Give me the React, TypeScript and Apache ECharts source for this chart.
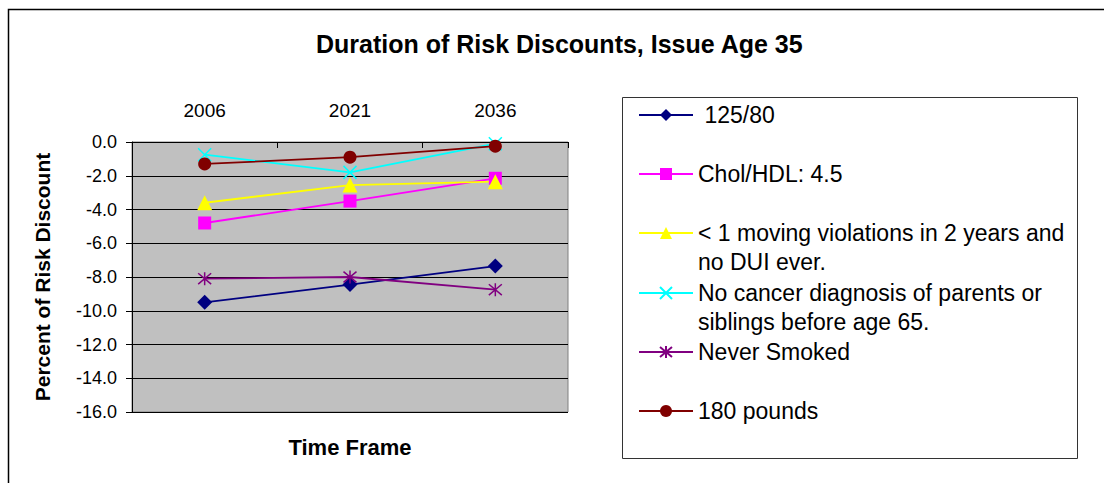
import React, { useEffect, useRef } from "react";
import * as echarts from "echarts";

const categories = ["2006", "2021", "2036"];
const seriesNames = [
  " 125/80",
  "Chol/HDL: 4.5",
  "< 1 moving violations in 2 years and no DUI ever.",
  "No cancer diagnosis of parents or siblings before age 65.",
  "Never Smoked",
  "180 pounds",
];
const legendLabels = [
  " 125/80",
  "Chol/HDL: 4.5",
  " \n< 1 moving violations in 2 years and\nno DUI ever.",
  " \nNo cancer diagnosis of parents or\nsiblings before age 65.",
  "Never Smoked",
  "180 pounds",
];
const bpValues = [-9.5, -8.45, -7.35];
const cholValues = [-4.8, -3.5, -2.15];
const movingValues = [-3.6, -2.55, -2.35];
const cancerValues = [-0.75, -1.8, -0.1];
const smokedValues = [-8.1, -8.0, -8.75];
const poundsValues = [-1.3, -0.9, -0.25];
const yTicks = { min: -16, max: 0, interval: 2 };

const FONT = "'Liberation Sans', Arial, sans-serif";

export default function App() {
  const ref = useRef<HTMLDivElement>(null);
  useEffect(() => {
    if (!ref.current) return;
    const chart = echarts.init(ref.current, undefined, { renderer: "svg" });
    const values = [bpValues, cholValues, movingValues, cancerValues, smokedValues, poundsValues];
    const colors = ["#000080", "#FF00FF", "#FFFF00", "#00FFFF", "#800080", "#800000"];
    const symbols = [
      "diamond",
      "rect",
      "triangle",
      "path://M0,0L10,10M10,0L0,10",
      "path://M0,0L10,10M10,0L0,10M5,-1L5,11",
      "circle",
    ];
    const symbolSizes = [15, 13, 15, 13, 13, 13];
    const stroked = [false, false, false, true, true, false];
    const legendCenters = [115, 174, 233, 293, 352, 411];

    const series = seriesNames.map((name, i) => ({
      name,
      type: "line",
      data: values[i],
      symbol: symbols[i],
      symbolSize: symbolSizes[i],
      showAllSymbol: true,
      lineStyle: { color: colors[i], width: 1.8 },
      itemStyle: stroked[i]
        ? { color: colors[i], borderColor: colors[i], borderWidth: 1.5 }
        : { color: colors[i], borderWidth: 0 },
      emphasis: { disabled: true },
      z: 3,
    }));

    const legends = seriesNames.map((name, i) => {
      const multi = legendLabels[i].includes("\n");
      return {
        data: [name],
        left: 638,
        top: legendCenters[i] - (multi ? 43.5 : 14.5),
        orient: "vertical",
        itemWidth: 54,
        itemHeight: 15,
        padding: 0,
        selectedMode: false,
        formatter: () => legendLabels[i],
        textStyle: {
          fontSize: 23,
          lineHeight: 29,
          color: "#000",
          fontFamily: FONT,
        },
      };
    });

    chart.setOption({
      animation: false,
      backgroundColor: "#fff",
      title: {
        text: "Duration of Risk Discounts, Issue Age 35",
        left: 316,
        top: 31,
        padding: 0,
        textStyle: { fontSize: 25, fontWeight: "bold", color: "#000", fontFamily: FONT },
      },
      legend: legends,
      grid: {
        left: 132,
        top: 142,
        width: 436,
        height: 270,
        show: true,
        backgroundColor: "#C0C0C0",
        borderColor: "#808080",
        borderWidth: 1,
      },
      xAxis: {
        type: "category",
        position: "top",
        data: categories,
        boundaryGap: true,
        axisLine: { lineStyle: { color: "#000", width: 1 } },
        axisTick: { show: true, inside: true, length: 6, lineStyle: { color: "#000" } },
        axisLabel: { fontSize: 19, color: "#000", margin: 22, fontFamily: FONT },
        splitLine: { show: false },
      },
      yAxis: {
        type: "value",
        min: yTicks.min,
        max: yTicks.max,
        interval: yTicks.interval,
        name: "Percent of Risk Discount",
        nameLocation: "middle",
        nameGap: 79,
        nameTextStyle: { fontSize: 21, fontWeight: "bold", color: "#000", fontFamily: FONT },
        axisLine: { show: true, lineStyle: { color: "#000", width: 1 } },
        axisTick: { show: true, inside: false, length: 6, lineStyle: { color: "#000" } },
        axisLabel: {
          fontSize: 18,
          color: "#000",
          margin: 15,
          fontFamily: FONT,
          formatter: (v: number) => v.toFixed(1),
        },
        splitLine: { show: true, lineStyle: { color: "#000", width: 1 } },
      },
      graphic: [
        {
          type: "rect",
          shape: { x: 8.5, y: 9.5, width: 1110, height: 500 },
          style: { fill: "none", stroke: "#000", lineWidth: 1.5 },
          silent: true,
          z: -10,
        },
        {
          type: "rect",
          shape: { x: 622.5, y: 97.5, width: 455, height: 361 },
          style: { fill: "none", stroke: "#333", lineWidth: 1 },
          silent: true,
        },
        {
          type: "text",
          x: 350,
          y: 447,
          style: {
            text: "Time Frame",
            fontSize: 22,
            fontWeight: "bold",
            fill: "#000",
            fontFamily: FONT,
            align: "center",
            verticalAlign: "middle",
          },
          silent: true,
        },
      ],
      series,
    });
    return () => chart.dispose();
  }, []);
  return (
    <div
      ref={ref}
      style={{ position: "absolute", left: 0, top: 0, width: 1104, height: 483 }}
    />
  );
}
